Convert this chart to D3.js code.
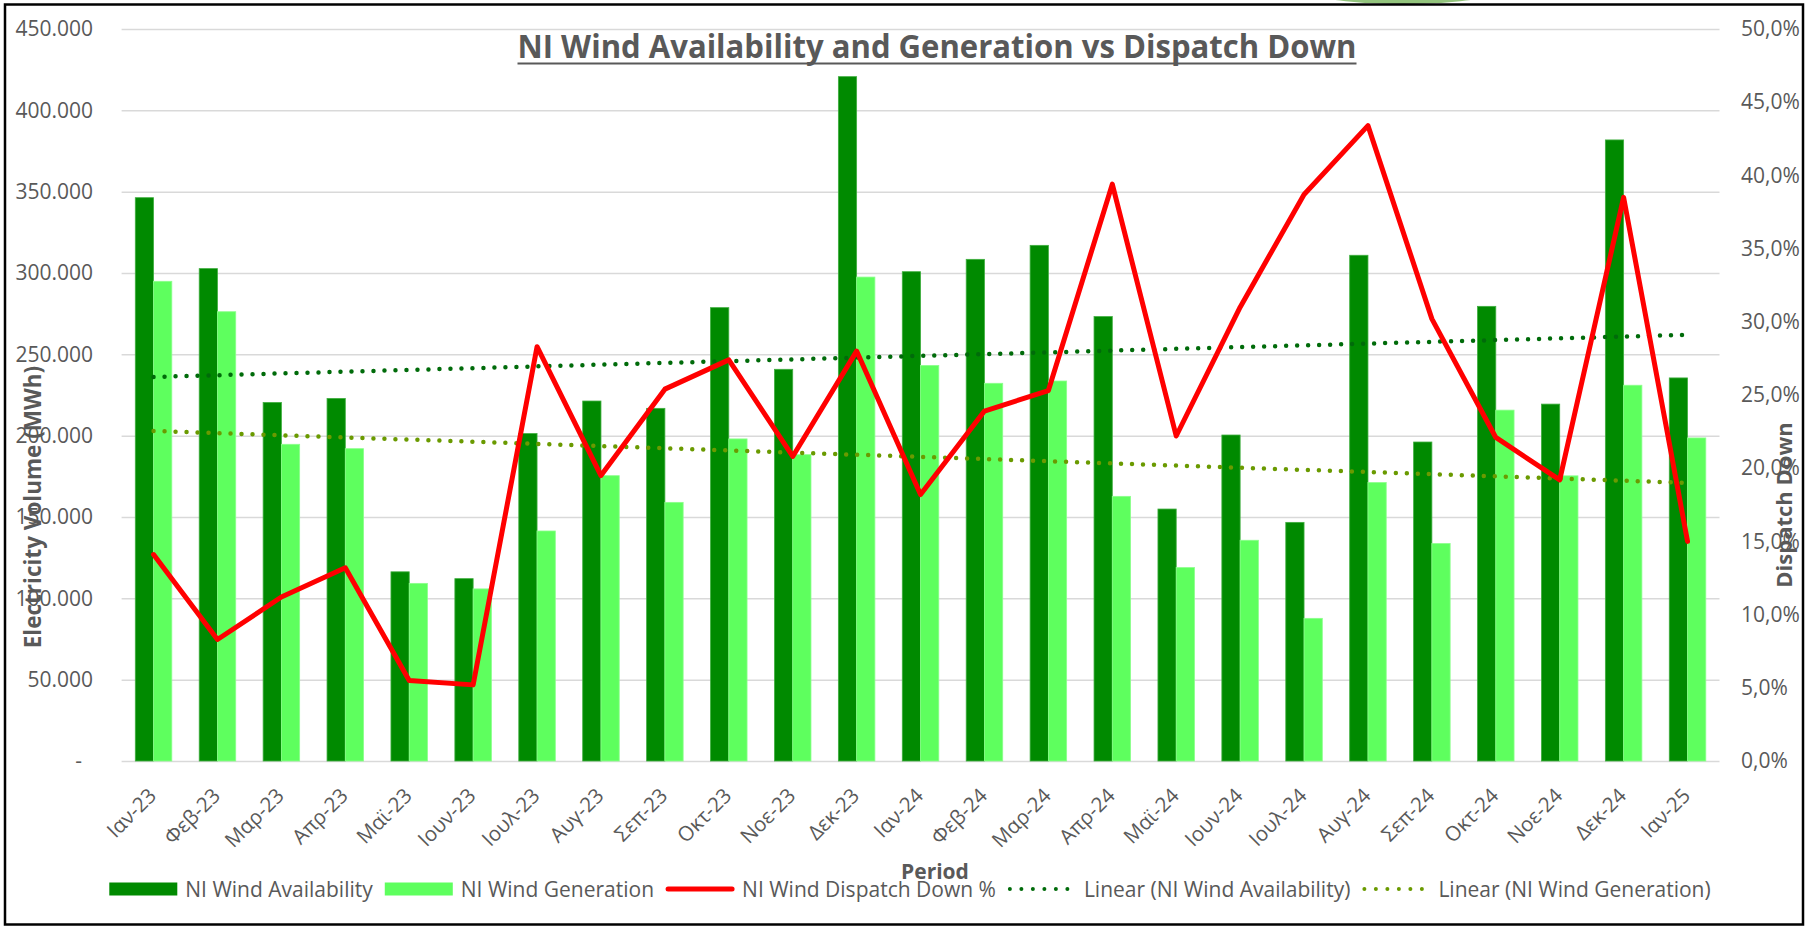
<!DOCTYPE html>
<html>
<head>
<meta charset="utf-8">
<script src="https://cdn.jsdelivr.net/npm/d3@7"></script>
<style>
  body { margin: 0; background: #fff; }
  svg text { font-family: "Open Sans", sans-serif; fill: #595959; }
</style>
</head>
<body>
<div id="chart"></div>
<script>
// ---- data ----
var categories = ["Ιαν-23","Φεβ-23","Μαρ-23","Απρ-23","Μαϊ-23","Ιουν-23","Ιουλ-23","Αυγ-23","Σεπ-23","Οκτ-23","Νοε-23","Δεκ-23",
                  "Ιαν-24","Φεβ-24","Μαρ-24","Απρ-24","Μαϊ-24","Ιουν-24","Ιουλ-24","Αυγ-24","Σεπ-24","Οκτ-24","Νοε-24","Δεκ-24","Ιαν-25"];
var availability = [346300, 302700, 220400, 222900, 116300, 112100, 201300, 221300, 216800, 278700, 240800, 420700,
                    300800, 308400, 317000, 273200, 154900, 200400, 146700, 310900, 196100, 279500, 219400, 381800, 235500];
var generation = [294900, 276200, 194700, 192000, 109200, 105800, 141400, 175400, 159000, 198000, 188300, 297500,
                  243200, 232200, 233600, 162700, 118900, 135700, 87700, 171200, 133700, 215700, 175300, 231000, 198600];
var dispatchDown = [0.141, 0.083, 0.112, 0.132, 0.055, 0.052, 0.283, 0.195, 0.254, 0.274, 0.208, 0.280,
                    0.182, 0.239, 0.253, 0.394, 0.222, 0.310, 0.387, 0.434, 0.302, 0.221, 0.192, 0.385, 0.150];
// linear trendline end values (first and last month)
var trendAvailability = [236100, 262000];
var trendGeneration = [202900, 171000];
var volumeTicks = [0, 50000, 100000, 150000, 200000, 250000, 300000, 350000, 400000, 450000];
var percentTicks = [0, 0.05, 0.10, 0.15, 0.20, 0.25, 0.30, 0.35, 0.40, 0.45, 0.50];

var colAvail = "#008a00", colGen = "#5eff5e", colDD = "#ff0000",
    colTrendA = "#006b0a", colTrendG = "#6a9a00", grey = "#595959";

// ---- layout ----
var W = 1811, H = 926;
var margin = { top: 29, left: 121.6, right: W - 1719.5, bottom: H - 761 };
var plotW = W - margin.left - margin.right;
var plotH = H - margin.top - margin.bottom;

var locale = d3.formatLocale({ decimal: ",", thousands: ".", grouping: [3], currency: ["", ""] });
var fmtVol = function(d) { return d === 0 ? "-" : locale.format(",.0f")(d); };
var fmtPct = locale.format(".1%");

var svg = d3.select("#chart").append("svg").attr("width", W).attr("height", H);
svg.append("rect").attr("width", W).attr("height", H).attr("fill", "#fff");
// bit of a green shape peeking in at the top
svg.append("ellipse").attr("cx", 1403).attr("cy", -33).attr("rx", 150).attr("ry", 37).attr("fill", "#93c47d");
// frame
svg.append("rect").attr("x", 5).attr("y", 4.5).attr("width", 1798).attr("height", 920)
   .attr("fill", "none").attr("stroke", "#000").attr("stroke-width", 2.5);

var g = svg.append("g").attr("transform", "translate(" + margin.left + "," + margin.top + ")");

var x = d3.scaleBand().domain(categories).range([0, plotW]);
var x1 = d3.scaleBand().domain(["avail", "gen"]).range([0, x.bandwidth()]).paddingOuter(0.75);
var yL = d3.scaleLinear().domain([0, 450000]).range([plotH, 0]);
var yR = d3.scaleLinear().domain([0, 0.5]).range([plotH, 0]);
var cx = function(d) { return x(d) + x.bandwidth() / 2; };

// gridlines
g.append("g")
  .call(d3.axisLeft(yL).tickValues(volumeTicks).tickSize(-plotW).tickFormat(""))
  .call(function(a) { a.select(".domain").remove(); })
  .selectAll("line").attr("stroke", "#d9d9d9").attr("stroke-width", 1.5);

// left axis labels
var leftAxis = g.append("g")
  .call(d3.axisLeft(yL).tickValues(volumeTicks).tickSize(0).tickPadding(28.6).tickFormat(fmtVol));
leftAxis.select(".domain").remove();
leftAxis.selectAll("text").style("font-size", "21px").attr("fill", grey)
  .attr("dx", function(d) { return d === 0 ? -11 : 0; });

// right axis labels
var rightAxis = g.append("g").attr("transform", "translate(" + plotW + ",0)")
  .call(d3.axisRight(yR).tickValues(percentTicks).tickSize(0).tickPadding(21.5).tickFormat(fmtPct));
rightAxis.select(".domain").remove();
rightAxis.selectAll("text").style("font-size", "21px").attr("fill", grey);

// bars
var rows = categories.map(function(c, i) {
  return { cat: c, avail: availability[i], gen: generation[i], dd: dispatchDown[i] };
});
var groups = g.append("g").selectAll("g").data(rows).join("g")
  .attr("transform", function(d) { return "translate(" + x(d.cat) + ",0)"; });
groups.append("rect")
  .attr("x", x1("avail")).attr("width", x1.bandwidth())
  .attr("y", function(d) { return yL(d.avail); })
  .attr("height", function(d) { return plotH - yL(d.avail); })
  .attr("fill", colAvail).attr("stroke", "#3fae3f").attr("stroke-width", 0.8);
groups.append("rect")
  .attr("x", x1("gen")).attr("width", x1.bandwidth())
  .attr("y", function(d) { return yL(d.gen); })
  .attr("height", function(d) { return plotH - yL(d.gen); })
  .attr("fill", colGen).attr("stroke", "#8cff8c").attr("stroke-width", 0.8);

// x axis labels
var xAxis = g.append("g").attr("transform", "translate(0," + plotH + ")")
  .call(d3.axisBottom(x).tickSize(0));
xAxis.select(".domain").remove();
xAxis.selectAll("text")
  .attr("y", 0).attr("dy", 0).attr("text-anchor", "end")
  .attr("transform", "translate(4,36) rotate(-45)")
  .style("font-size", "20.5px").attr("fill", grey);

// trendlines
var first = categories[0], last = categories[categories.length - 1];
var trendLine = d3.line().x(function(d) { return cx(d[0]); }).y(function(d) { return yL(d[1]); });
[[trendAvailability, colTrendA], [trendGeneration, colTrendG]].forEach(function(t) {
  g.append("path")
    .attr("d", trendLine([[first, t[0][0]], [last, t[0][1]]]))
    .attr("fill", "none").attr("stroke", t[1]).attr("stroke-width", 4.5)
    .attr("stroke-linecap", "round").attr("stroke-dasharray", "0 11");
});

// dispatch down line
var ddLine = d3.line().x(function(d) { return cx(d.cat); }).y(function(d) { return yR(d.dd); });
g.append("path").datum(rows).attr("d", ddLine)
  .attr("fill", "none").attr("stroke", colDD).attr("stroke-width", 5)
  .attr("stroke-linejoin", "round").attr("stroke-linecap", "round");

// titles
var title = svg.append("text").attr("x", 937).attr("y", 58).attr("text-anchor", "middle")
  .style("font-size", "32px").style("font-weight", "bold")
  .attr("textLength", 839).attr("lengthAdjust", "spacingAndGlyphs")
  .text("NI Wind Availability and Generation vs Dispatch Down");
var tb = title.node().getBBox();
svg.append("line").attr("x1", tb.x).attr("x2", tb.x + tb.width).attr("y1", 63.5).attr("y2", 63.5)
  .attr("stroke", grey).attr("stroke-width", 2.2);

svg.append("text").attr("transform", "translate(41,507) rotate(-90)").attr("text-anchor", "middle")
  .style("font-size", "22.5px").style("font-weight", "bold").text("Electricity Volume (MWh)");
svg.append("text").attr("transform", "translate(1792,505) rotate(-90)").attr("text-anchor", "middle")
  .style("font-size", "22px").style("font-weight", "bold").text("Dispatch Down");
svg.append("text").attr("x", 935).attr("y", 879).attr("text-anchor", "middle")
  .style("font-size", "21px").style("font-weight", "bold").text("Period");

// legend
var legendItems = [
  { label: "NI Wind Availability", type: "bar", color: colAvail },
  { label: "NI Wind Generation", type: "bar", color: colGen },
  { label: "NI Wind Dispatch Down %", type: "line", color: colDD },
  { label: "Linear (NI Wind Availability)", type: "dots", color: colTrendA },
  { label: "Linear (NI Wind Generation)", type: "dots", color: colTrendG }
];
var legend = svg.append("g");
var swW = 68, gapText = 8, gapItem = 12, legY = 889;
var lx = 0;
legendItems.forEach(function(it) {
  var item = legend.append("g").attr("transform", "translate(" + lx + ",0)");
  if (it.type === "bar") {
    item.append("rect").attr("x", 0).attr("y", legY - 6.5).attr("width", swW).attr("height", 13).attr("fill", it.color);
  } else if (it.type === "line") {
    item.append("line").attr("x1", 2).attr("x2", swW - 2).attr("y1", legY).attr("y2", legY)
      .attr("stroke", it.color).attr("stroke-width", 5).attr("stroke-linecap", "round");
  } else {
    item.append("line").attr("x1", 2).attr("x2", swW).attr("y1", legY).attr("y2", legY)
      .attr("stroke", it.color).attr("stroke-width", 4).attr("stroke-linecap", "round").attr("stroke-dasharray", "0 11.5");
  }
  var t = item.append("text").attr("x", swW + gapText).attr("y", legY + 7.5)
    .style("font-size", "21px").text(it.label);
  lx += swW + gapText + t.node().getComputedTextLength() + gapItem;
});
var legW = lx - gapItem;
legend.attr("transform", "translate(" + (910 - legW / 2) + ",0)");
</script>
</body>
</html>
